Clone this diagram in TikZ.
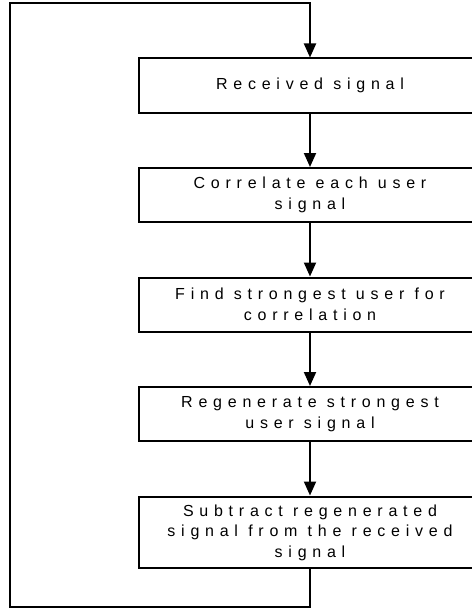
\documentclass[tikz,border=0pt]{standalone}
\usepackage{fontspec}
\setmainfont{Liberation Sans}
\usetikzlibrary{positioning, arrows.meta}

\begin{document}
\begin{tikzpicture}[
    x=1pt, y=1pt,
    >={Triangle[width=12pt, length=14pt]},
    font=\fontsize{16}{20.5}\selectfont\addfontfeatures{LetterSpace=36},
    node distance=53.5pt,
    procbox/.style={draw=black, line width=2pt, minimum width=342pt, minimum height=54pt, inner ysep=8pt, align=center},
    flow/.style={->, line width=2pt, draw=black}
]
\useasboundingbox (0,0) rectangle (471,-610);

%% --- processing steps ---
\node[procbox] (recv) at (310,-85.5) {Received signal};
\node[procbox, below=of recv] (corr) {Correlate each user\\signal};
\node[procbox, below=of corr] (findmax) {Find strongest user for\\correlation};
\node[procbox, below=of findmax] (regen) {Regenerate strongest\\user signal};
\node[procbox, below=of regen] (subtr) {Subtract regenerated\\signal from the received\\signal};

\draw[flow] (recv) -- (corr);
\draw[flow] (corr) -- (findmax);
\draw[flow] (findmax) -- (regen);
\draw[flow] (regen) -- (subtr);

%% --- feedback loop ---
\coordinate (loop_bot) at (10,-607);
\coordinate (loop_top) at (10,-3);
\draw[flow] (subtr.south) |- (loop_bot) -- (loop_top) -| (recv.north);

\end{tikzpicture}
\end{document}
